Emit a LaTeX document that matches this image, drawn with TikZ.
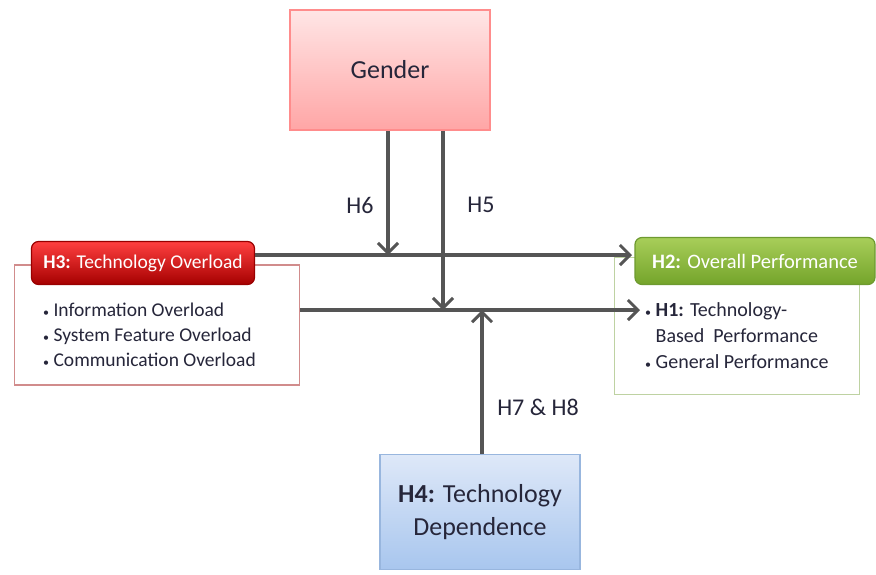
\documentclass[tikz,border=0pt]{standalone}
\usepackage{fontspec}
\setmainfont{Carlito}
\usetikzlibrary{arrows.meta}

\definecolor{arrowgray}{HTML}{555555}
\definecolor{bluetop}{HTML}{DEE8F8}
\definecolor{bluebot}{HTML}{A8C6EE}
\definecolor{blueline}{HTML}{98B6DE}
\definecolor{greentop}{HTML}{A8CE5A}
\definecolor{greenbot}{HTML}{74A42A}
\definecolor{greenline}{HTML}{6E9A30}
\definecolor{textnavy}{HTML}{26263A}
\tikzset{
  conn/.style={draw=arrowgray,line width=3.5pt,-{Straight Barb[length=10pt,width=20pt,line width=3pt]}},
  plainbox/.style={draw,line width=1.5pt,fill=white,inner sep=0pt},
  headbox/.style={draw,line width=1.2pt,rounded corners=7pt,text=white,inner sep=0pt,
    font=\fontsize{19.5}{22}\selectfont},
  listtext/.style={align=left,inner sep=0pt,text=textnavy},
  hlabel/.style={font=\fontsize{24}{28}\selectfont,text=textnavy}
}
\newcommand{\bul}{{\fontsize{12}{12}\selectfont\textbullet}\ }

\begin{document}
\begin{tikzpicture}[x=1pt,y=-1pt]
			\useasboundingbox (0,0) rectangle (876,574);

			% moderator and independent variables
			\node[plainbox,draw=red!45,top color=red!10,bottom color=red!35,text=textnavy,
				minimum width=200pt,minimum height=120pt,
				font=\fontsize{26}{30}\selectfont] (gender) at (390,70) {Gender};
			\node[plainbox,draw=blueline,top color=bluetop,bottom color=bluebot,text=textnavy,
				minimum width=200pt,minimum height=115pt,align=center,
				font=\fontsize{26}{33}\selectfont] (dep) at (480,512) {\textbf{H4:} Technology\\Dependence};

			% technology overload
			\node[plainbox,draw=red!60!black!45,minimum width=285pt,minimum height=120pt] (h3body) at (157,325) {};
			\node[headbox,draw=red!60!black,top color=red!75,bottom color=red!65!black,
				minimum width=223pt,minimum height=43pt] (h3head) at (143,263) {\textbf{H3:} Technology Overload};
			\node[listtext,anchor=west,font=\fontsize{19.5}{25}\selectfont] (h3list) at (43,335)
				{\bul Information Overload\\ \bul System Feature Overload\\ \bul Communication Overload};

			% overall performance
			\node[plainbox,draw=greenline!45,minimum width=245pt,minimum height=137pt] (h2body) at (737,326) {};
			\node[headbox,draw=greenline,top color=greentop,bottom color=greenbot,
				minimum width=240pt,minimum height=47pt,font=\fontsize{20.5}{24}\selectfont] (h2head) at (755,261) {\textbf{H2:} Overall Performance};
			\node[listtext,anchor=west,font=\fontsize{20}{26}\selectfont] (h2list) at (645,336)
				{\bul\textbf{H1:} Technology-\\ \phantom{\bul}Based\ \ Performance\\ \bul General Performance};

			% arrow ends
			\coordinate (over) at (632,255);
			\coordinate (perf) at (640,310);
			\coordinate (h6end) at (388,255);
			\coordinate (h5end) at (443,310);
			\coordinate (h78end) at (482,310);

			\draw[conn] (h3head.east |- over) -- (over);
			\draw[conn] (h3body.east |- perf) -- (perf);
			\draw[conn] (gender.south -| h6end) -- (h6end);
			\draw[conn] (gender.south -| h5end) -- (h5end);
			\draw[conn] (dep.north -| h78end) -- (h78end);

			\node[hlabel] (h6) at (360,205) {H6};
			\node[hlabel] (h5) at (481,205) {H5};
			\node[hlabel] (h78) at (538,407) {H7 \& H8};
		\end{tikzpicture}
\end{document}
